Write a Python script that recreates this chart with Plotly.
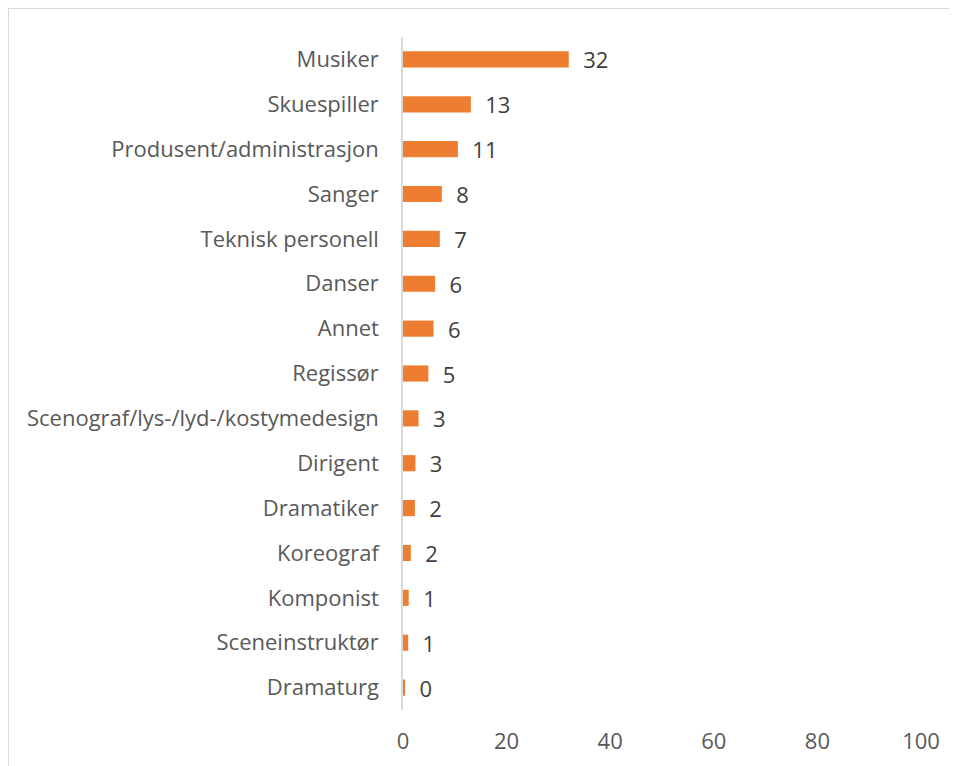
import plotly.graph_objects as go

categories = ["Musiker", "Skuespiller", "Produsent/administrasjon", "Sanger",
              "Teknisk personell", "Danser", "Annet", "Regissør",
              "Scenograf/lys-/lyd-/kostymedesign", "Dirigent", "Dramatiker",
              "Koreograf", "Komponist", "Sceneinstruktør", "Dramaturg"]
values = [32.0, 13.1, 10.6, 7.5, 7.1, 6.2, 5.9, 4.9, 3.0, 2.4, 2.3, 1.5, 1.1, 1.0, 0.2]
labels = [32, 13, 11, 8, 7, 6, 6, 5, 3, 3, 2, 2, 1, 1, 0]
x_ticks = [0, 20, 40, 60, 80, 100]

# page body adds an 8px offset, so margins are set in figure coordinates
W, H = 957, 766
ml, mr, mt, mb = 395, 44, 29, 64
pw, ph = W - ml - mr, H - mt - mb
FONT = "Open Sans"
FS = 22

def px_x(p):
    return (p - ml) / pw

def px_y(p):
    return (H - mb - p) / ph

fig = go.Figure(go.Bar(
    x=values, y=categories, orientation="h",
    marker=dict(color="#ED7D31", line=dict(width=0)),
    text=["  " + str(v) for v in labels], textposition="outside",
    constraintext="none",
    textfont=dict(family=FONT, size=FS, color="#404040"),
    cliponaxis=False, width=0.36,
))

border = dict(color="#D9D9D9", width=2)
fig.add_shape(type="line", xref="paper", yref="paper",
              x0=px_x(0), x1=px_x(957), y0=px_y(0), y1=px_y(0), line=border)
fig.add_shape(type="line", xref="paper", yref="paper",
              x0=px_x(0), x1=px_x(0), y0=px_y(0), y1=px_y(770), line=border)

fig.update_layout(
    width=W, height=H,
    margin=dict(l=ml, r=mr, t=mt, b=mb, autoexpand=False),
    plot_bgcolor="white", paper_bgcolor="white",
    font=dict(family=FONT, size=FS, color="#595959"),
    showlegend=False,
    xaxis=dict(range=[0, 100], tickvals=x_ticks, showgrid=False, zeroline=False,
               showline=False, ticks="", automargin=False, ticklabelstandoff=16,
               tickfont=dict(size=FS, color="#595959")),
    yaxis=dict(autorange="reversed", showgrid=False, zeroline=False,
               showline=True, linecolor="#D9D9D9", linewidth=1.5,
               ticks="", ticklabelstandoff=18, automargin=False,
               tickfont=dict(size=FS, color="#595959")),
)

fig.write_html("out.html")
